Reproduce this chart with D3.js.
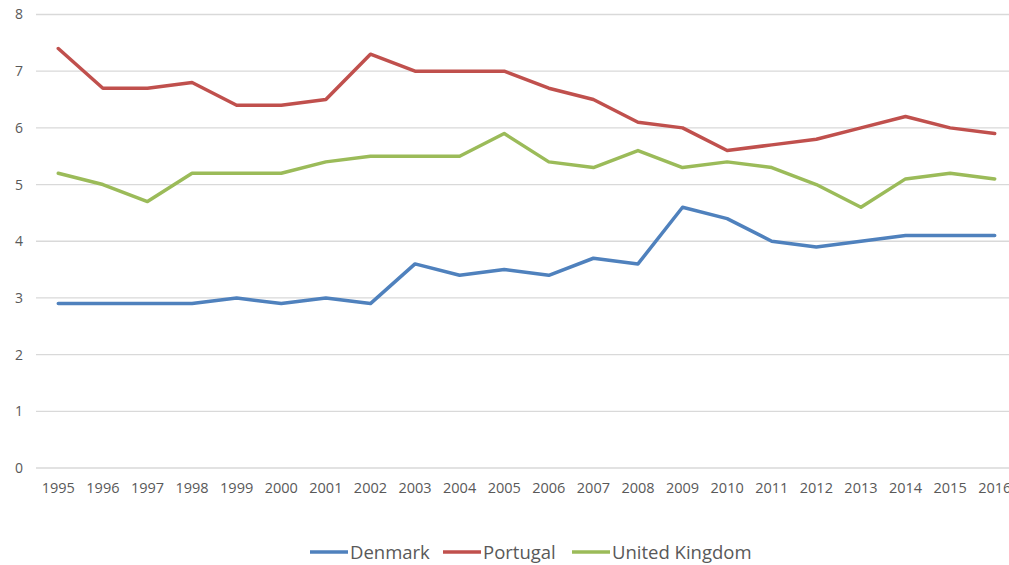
<!DOCTYPE html>
<html><head><meta charset="utf-8">
<script src="https://cdn.jsdelivr.net/npm/d3@7"></script>
<style>body{margin:0;background:#fff}svg{display:block}</style>
</head><body>
<svg id="c" width="1009" height="565"></svg>
<script>
const years = ["1995","1996","1997","1998","1999","2000","2001","2002","2003","2004","2005","2006","2007","2008","2009","2010","2011","2012","2013","2014","2015","2016"];
const denmark = [2.9,2.9,2.9,2.9,3.0,2.9,3.0,2.9,3.6,3.4,3.5,3.4,3.7,3.6,4.6,4.4,4.0,3.9,4.0,4.1,4.1,4.1];
const portugal = [7.4,6.7,6.7,6.8,6.4,6.4,6.5,7.3,7.0,7.0,7.0,6.7,6.5,6.1,6.0,5.6,5.7,5.8,6.0,6.2,6.0,5.9];
const uk = [5.2,5.0,4.7,5.2,5.2,5.2,5.4,5.5,5.5,5.5,5.9,5.4,5.3,5.6,5.3,5.4,5.3,5.0,4.6,5.1,5.2,5.1];
const yTicks = [0,1,2,3,4,5,6,7,8];
const seriesNames = ["Denmark","Portugal","United Kingdom"];
const colors = ["#4f81bd","#c0504d","#9bbb59"];
const series = [denmark, portugal, uk];

const svg = d3.select("#c");
const font = "'Open Sans', 'Liberation Sans', sans-serif";
const x = d3.scaleBand().domain(years).range([36, 1017]);
const y = d3.scaleLinear().domain([0, 8]).range([468, 14.5]);

svg.append("g").selectAll("line").data(yTicks).join("line")
  .attr("x1", 36).attr("x2", 1009)
  .attr("y1", d => y(d)).attr("y2", d => y(d))
  .attr("stroke", "#d9d9d9").attr("stroke-width", 1.3);

const yAxis = d3.axisLeft(y).tickValues(yTicks).tickSize(0).tickPadding(0);
const ya = svg.append("g").attr("transform", "translate(23,0)").call(yAxis);
ya.select(".domain").remove();
ya.selectAll("text").attr("font-family", font).attr("font-size", 14).attr("fill", "#595959");

const xAxis = d3.axisBottom(x).tickSize(0).tickPadding(0);
const xa = svg.append("g").attr("transform", "translate(0,483)").call(xAxis);
xa.select(".domain").remove();
xa.selectAll("text").attr("font-family", font).attr("font-size", 14.5).attr("fill", "#595959");

const line = d3.line().x((d, i) => x(years[i]) + x.bandwidth() / 2).y(d => y(d));
series.forEach((s, k) => {
  svg.append("path").datum(s).attr("d", line)
    .attr("fill", "none").attr("stroke", colors[k]).attr("stroke-width", 3.5)
    .attr("stroke-linejoin", "round").attr("stroke-linecap", "round");
});

const legX = [310, 443, 572];
const lg = svg.append("g");
seriesNames.forEach((n, k) => {
  lg.append("line").attr("x1", legX[k]).attr("x2", legX[k] + 38)
    .attr("y1", 552).attr("y2", 552).attr("stroke", colors[k]).attr("stroke-width", 3.5);
  lg.append("text").attr("x", legX[k] + 40).attr("y", 559)
    .attr("font-family", font).attr("font-size", 18.5).attr("fill", "#595959").text(n);
});
</script>
</body></html>
